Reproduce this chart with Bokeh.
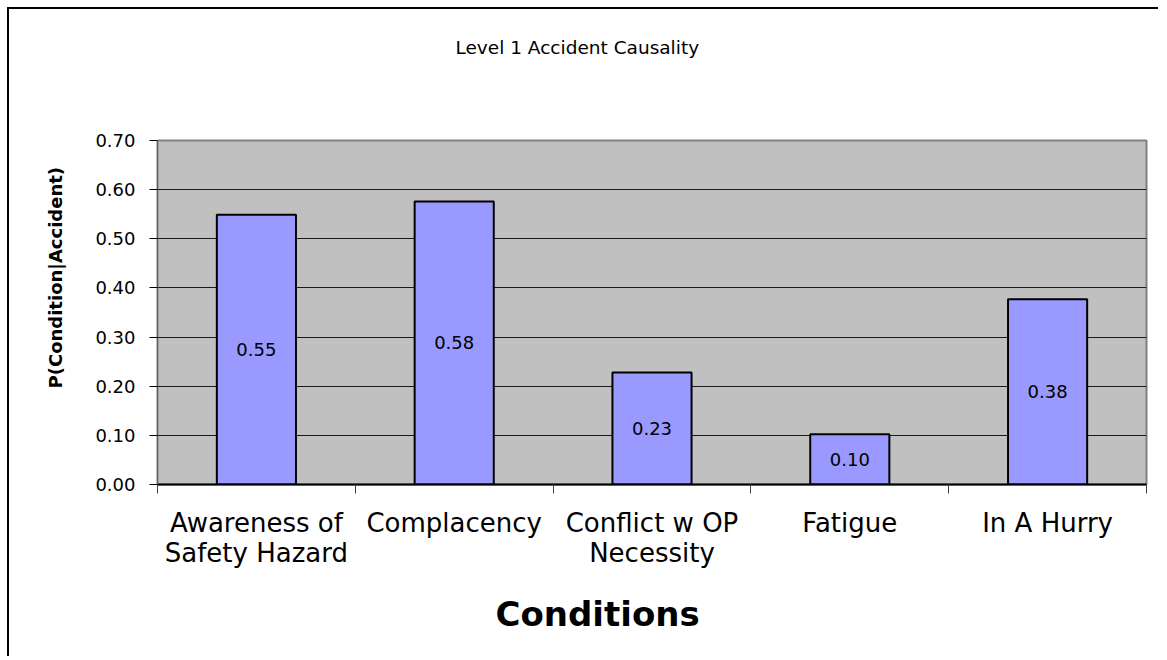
from bokeh.plotting import figure
from bokeh.models import (Range1d, FixedTicker, LinearAxis, Title, ColumnDataSource,
                          NumeralTickFormatter, Grid)
from bokeh.core.properties import value
from bokeh.embed import file_html
from bokeh.resources import INLINE

# ---- data ----
categories = ["Awareness of\nSafety Hazard", "Complacency", "Conflict w OP\nNecessity",
              "Fatigue", "In A Hurry"]
probabilities = [0.549, 0.576, 0.228, 0.102, 0.377]
y_ticks = [0.0, 0.1, 0.2, 0.3, 0.4, 0.5, 0.6, 0.7]
title_text = "Level 1 Accident Causality"
x_title = "Conditions"
y_title = "P(Condition|Accident)"

FONT = "DejaVu Sans"

n = len(categories)
centers = [i + 0.5 for i in range(n)]
bounds = [float(i) for i in range(n + 1)]

src = ColumnDataSource(dict(
    x=centers,
    top=probabilities,
    mid=[v / 2 for v in probabilities],
    lbl=[f"{v:.2f}" for v in probabilities],
))

p = figure(width=1151, height=649, output_backend="svg", toolbar_location=None,
           x_range=Range1d(0, n), y_range=Range1d(0, 0.7),
           x_axis_type=None, y_axis_type=None,
           min_border_left=148, min_border_right=14,
           min_border_top=131, min_border_bottom=174)

p.background_fill_color = "#C0C0C0"
p.border_fill_color = "white"
p.outline_line_color = "#808080"
p.outline_line_width = 2
p.styles = {"margin-left": "7px", "margin-top": "7px",
            "border-left": "2px solid black", "border-top": "2px solid black"}

# y axis
yax = LinearAxis(ticker=FixedTicker(ticks=y_ticks),
                 formatter=NumeralTickFormatter(format="0.00"))
yax.major_tick_out = 8
yax.major_tick_in = 0
yax.minor_tick_line_color = None
yax.axis_line_color = "#606060"
yax.major_tick_line_color = "black"
yax.major_label_text_font = FONT
yax.major_label_text_font_size = "18px"
yax.major_label_text_color = "black"
yax.major_label_standoff = 14
p.add_layout(yax, "left")

# grid
p.add_layout(Grid(dimension=1, ticker=FixedTicker(ticks=y_ticks),
                  grid_line_color="#1a1a1a", grid_line_width=1.2))

# x axis: boundary ticks only
xax = LinearAxis(ticker=FixedTicker(ticks=bounds))
xax.major_label_overrides = {b: "" for b in bounds}
xax.major_label_text_font_size = "0px"
xax.major_tick_out = 9
xax.major_tick_in = 0
xax.minor_tick_line_color = None
xax.axis_line_color = "black"
xax.axis_line_width = 2
xax.major_tick_line_color = "#404040"
xax.major_label_standoff = 0
p.add_layout(xax, "below")

# x axis: category labels
cax = LinearAxis(ticker=FixedTicker(ticks=centers))
cax.major_label_overrides = {c: lab for c, lab in zip(centers, categories)}
cax.major_tick_line_color = None
cax.minor_tick_line_color = None
cax.axis_line_color = None
cax.major_label_text_font = FONT
cax.major_label_text_font_size = "26px"
cax.major_label_text_line_height = 1.0
cax.major_label_text_color = "black"
cax.major_label_standoff = 8
p.add_layout(cax, "below")

# bars
p.vbar(x="x", top="top", width=0.4, source=src, fill_color="#9999FF",
       line_color="black", line_width=2)
p.text(x="x", y="mid", text="lbl", source=src, text_align="center",
       text_baseline="middle", text_font=value(FONT), text_font_size="18px",
       text_color="black")

# white (invisible) spacer axis between title and frame
spacer = LinearAxis(ticker=FixedTicker(ticks=[0.0]))
spacer.major_label_overrides = {0.0: ""}
spacer.major_label_text_font_size = "0px"
spacer.major_tick_out = 57
spacer.major_tick_in = 0
spacer.minor_tick_out = 0
spacer.major_tick_line_color = "white"
spacer.minor_tick_line_color = None
spacer.axis_line_color = None
spacer.major_label_standoff = 0
p.add_layout(spacer, "above")

# titles
p.add_layout(Title(text=title_text, align="left", offset=298, standoff=51,
                   vertical_align="bottom", text_font=FONT, text_font_size="18.5px",
                   text_font_style="normal", text_color="black"), "above")

p.add_layout(Title(text=x_title, align="left", offset=338, standoff=46,
                   vertical_align="top", text_font=FONT, text_font_size="34px",
                   text_font_style="bold", text_color="black"), "below")
p.add_layout(Title(text=y_title, align="left", offset=96, standoff=54,
                   vertical_align="bottom", text_font=FONT, text_font_size="18px",
                   text_font_style="bold", text_color="black"), "left")

open("out.html", "w").write(file_html(p, INLINE))
